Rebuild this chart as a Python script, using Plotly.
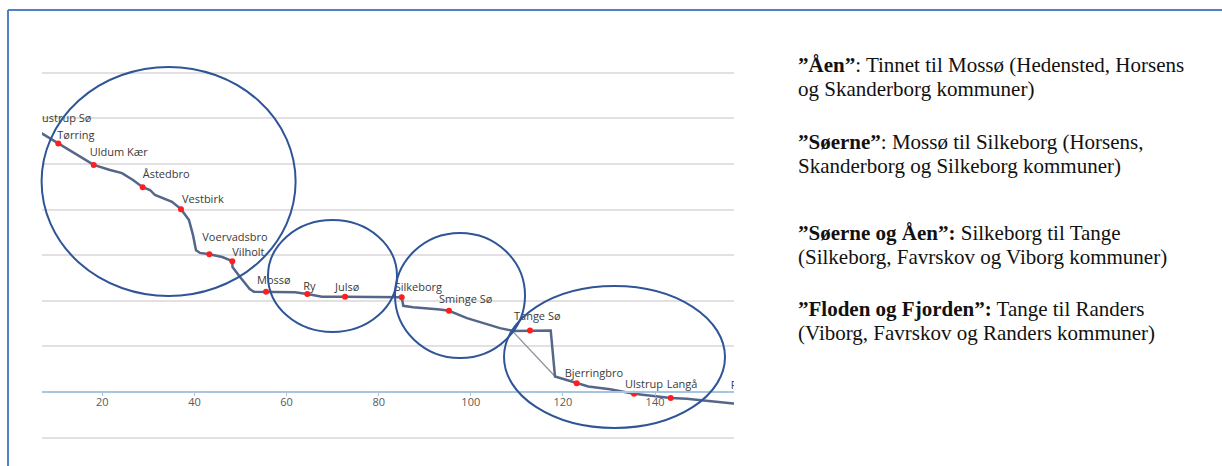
import plotly.graph_objects as go

# ---------------- data ----------------
# river profile: distance along river (km) and water level (m)
river_km = [4.95, 6.90, 10.44, 14.07, 18.13, 21.67, 24.27, 26.66, 28.77, 30.35, 31.44, 35.13,
            37.08, 38.82, 39.69, 40.34, 41.21, 43.23, 46.03, 48.22, 48.26, 49.90, 52.00, 52.90,
            55.54, 61.83, 64.50, 67.69, 72.69, 85.00, 85.34, 87.45, 93.31, 95.26, 99.17, 106.34,
            109.16, 112.85, 117.35, 118.28, 122.99, 125.51, 130.22, 135.43, 143.40, 146.88,
            156.99, 159.50]
river_m = [57.9, 56.7, 54.5, 52.2, 49.8, 48.7, 48.0, 46.5, 44.9, 44.3, 43.2, 41.7,
           40.1, 37.7, 34.4, 31.1, 30.5, 30.2, 29.6, 28.7, 27.4, 25.2, 22.6, 22.0,
           22.0, 21.9, 21.5, 20.9, 20.9, 20.8, 18.9, 18.6, 18.1, 17.8, 16.2, 14.0,
           13.4, 13.5, 13.5, 3.4, 1.9, 1.2, 0.6, -0.4, -1.3, -1.5,
           -2.5, -2.7]

# old river course (before Tange dam)
old_km = [109.0, 118.3]
old_m = [13.4, 3.4]

stations = ["ustrup Sø", "Tørring", "Uldum Kær", "Åstedbro", "Vestbirk", "Voervadsbro", "Vilholt",
            "Mossø", "Ry", "Julsø", "Silkeborg", "Sminge Sø", "Tange Sø", "Bjerringbro",
            "Ulstrup", "Langå", "Randers"]
station_km = [4.95, 10.44, 18.13, 28.77, 37.08, 43.23, 48.22, 55.54, 64.50, 72.69, 85.00,
              95.26, 112.85, 122.99, 135.43, 143.40, 158.4]
station_m = [57.9, 54.5, 49.8, 44.9, 40.1, 30.2, 28.7, 22.0, 21.5, 20.9, 20.8,
             17.8, 13.5, 1.9, -0.4, -1.3, -2.6]

x_ticks = [20, 40, 60, 80, 100, 120, 140]

texts = [
    ("<b>”Åen”</b>: Tinnet til Mossø (Hedensted, Horsens", "og Skanderborg kommuner)"),
    ("<b>”Søerne”</b>: Mossø til Silkeborg (Horsens,", "Skanderborg og Silkeborg kommuner)"),
    ("<b>”Søerne og Åen”:</b> Silkeborg til Tange", "(Silkeborg, Favrskov og Viborg kommuner)"),
    ("<b>”Floden og Fjorden”:</b> Tange til Randers", "(Viborg, Favrskov og Randers kommuner)"),
]

# ---------------- layout geometry (pixels) ----------------
W, H = 1222, 466
L, R, T, B = 42, 734, 50, 446
PXKM, X0 = 4.606, 10.2      # px per km, px of km 0
PXM, Y0 = 4.56, 392         # px per m, px of m 0


def px(xp):
    return (xp - L) / (R - L)


def py(yp):
    return (B - yp) / (B - T)


# label offsets (px, right / down) relative to the station dot
label_off = [(9, -9), (-1, -7), (-4, -12), (0, -12), (1, -9), (-7, -16), (0, -8),
             (-9, -10), (-4, -7), (-10, -8), (-7, -9), (-10, -11), (-16, -13), (-12, -9),
             (-9, -9), (-4, -13), (-9, -18)]

fig = go.Figure()

fig.add_trace(go.Scatter(x=old_km, y=old_m, mode="lines",
                         line=dict(color="#8d919b", width=1.3), hoverinfo="skip"))
fig.add_trace(go.Scatter(x=river_km, y=river_m, mode="lines",
                         line=dict(color="#56668a", width=2.5), hoverinfo="skip"))
fig.add_trace(go.Scatter(x=station_km[1:], y=station_m[1:], mode="markers",
                         marker=dict(color="#ff1e1e", size=6), hoverinfo="skip", cliponaxis=True))

lab_x = [k + dx / PXKM for k, (dx, dy) in zip(station_km, label_off)]
lab_y = [m - dy / PXM for m, (dx, dy) in zip(station_m, label_off)]
fig.add_trace(go.Scatter(x=lab_x, y=lab_y, mode="text", text=stations,
                         textposition="middle right", cliponaxis=True,
                         textfont=dict(family="Open Sans", size=11, color="#3a3a3a"),
                         hoverinfo="skip"))

# ellipses (pixel centre, radii)
ellipses = [(168.6, 181.5, 127, 114.5), (332.5, 276, 64.5, 56),
            (460, 295.5, 65, 62.5), (614.5, 357, 110.5, 71)]
for cx, cy, rx, ry in ellipses:
    fig.add_shape(type="circle", xref="paper", yref="paper",
                  x0=px(cx - rx), x1=px(cx + rx), y0=py(cy + ry), y1=py(cy - ry),
                  line=dict(color="#2f5597", width=2))

# page frame (top and left border)
fig.add_shape(type="line", xref="paper", yref="paper", x0=px(8), x1=px(W + 5), y0=py(10), y1=py(10),
              line=dict(color="#4f81c4", width=2))
fig.add_shape(type="line", xref="paper", yref="paper", x0=px(8), x1=px(8), y0=py(10), y1=py(H + 5),
              line=dict(color="#4f81c4", width=2))

# right-hand text
line_y = [(65, 89), (142, 166), (233, 257), (309, 333)]
for (l1, l2), (y1, y2) in zip(texts, line_y):
    for s, yy in ((l1, y1), (l2, y2)):
        fig.add_annotation(text=s, xref="paper", yref="paper", x=px(796), y=py(yy),
                           xanchor="left", yanchor="middle", showarrow=False,
                           font=dict(family="Liberation Serif", size=21, color="#111111"))

fig.update_layout(
    width=W, height=H,
    margin=dict(l=L, r=W - R, t=T, b=H - B),
    paper_bgcolor="white", plot_bgcolor="white",
    showlegend=False,
    xaxis=dict(range=[(L - X0) / PXKM, (R - X0) / PXKM], anchor="free",
               position=(B - Y0) / (B - T), showgrid=False, zeroline=False,
               showline=True, linecolor="#a7c5de", linewidth=2,
               ticks="outside", ticklen=3, tickcolor="#a7c5de", ticklabelstandoff=-3,
               tickvals=x_ticks, ticktext=[str(v) for v in x_ticks],
               tickfont=dict(family="Open Sans", size=11, color="#595959")),
    yaxis=dict(range=[(Y0 - B) / PXM, (Y0 - T) / PXM], showgrid=True,
               gridcolor="#e2e0e0", gridwidth=2, dtick=10, tick0=0,
               showticklabels=False, zeroline=False, ticks=""),
)

fig.write_html("out.html", config={"displayModeBar": False, "staticPlot": True},
               post_script="document.body.style.margin='0';document.body.style.overflow='hidden';")
